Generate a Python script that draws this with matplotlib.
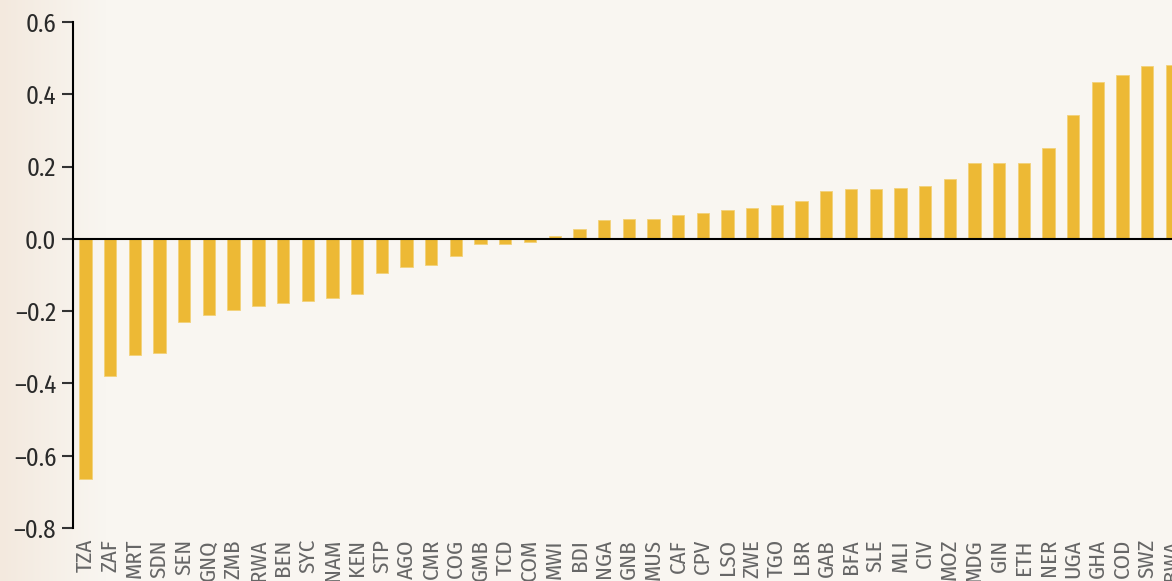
import numpy as np
import matplotlib.pyplot as plt
from matplotlib.colors import LinearSegmentedColormap

countries = ["TZA", "ZAF", "MRT", "SDN", "SEN", "GNQ", "ZMB", "RWA", "BEN", "SYC",
             "NAM", "KEN", "STP", "AGO", "CMR", "COG", "GMB", "TCD", "COM", "MWI",
             "BDI", "NGA", "GNB", "MUS", "CAF", "CPV", "LSO", "ZWE", "TGO", "LBR",
             "GAB", "BFA", "SLE", "MLI", "CIV", "MOZ", "MDG", "GIN", "ETH", "NER",
             "UGA", "GHA", "COD", "SWZ", "BWA"]
values = [-0.665, -0.379, -0.320, -0.317, -0.230, -0.211, -0.197, -0.187, -0.177, -0.172,
          -0.163, -0.152, -0.095, -0.077, -0.071, -0.048, -0.013, -0.013, -0.009, 0.009,
          0.028, 0.053, 0.056, 0.056, 0.066, 0.071, 0.080, 0.085, 0.094, 0.104,
          0.133, 0.138, 0.138, 0.142, 0.147, 0.166, 0.210, 0.210, 0.210, 0.252,
          0.343, 0.434, 0.453, 0.477, 0.482]
yticks = [-0.8, -0.6, -0.4, -0.2, 0.0, 0.2, 0.4, 0.6]

bar_color = "#EDB935"
bg_color = "#F9F6F1"
font = ["Fira Sans Condensed", "DejaVu Sans"]

fig = plt.figure(figsize=(11.72, 5.81), dpi=100)
fig.patch.set_facecolor(bg_color)

# warm strip fading in from the left edge
bg = fig.add_axes([0, 0, 0.09, 1], zorder=-1)
grad = np.linspace(0, 1, 256).reshape(1, -1)
cmap = LinearSegmentedColormap.from_list("strip", ["#F3E9DE", bg_color])
bg.imshow(grad, aspect="auto", cmap=cmap, extent=[0, 1, 0, 1])
bg.axis("off")

ax = fig.add_axes([0.0623, 0.0912, 0.9377, 0.8709])
ax.patch.set_alpha(0)

x = np.arange(len(countries))
ax.bar(x, values, width=0.5, color=bar_color, edgecolor="#F3D27A", linewidth=0.6)
ax.axhline(0, color="black", linewidth=1.5)

ax.set_xlim(-0.506, 43.9)
ax.set_ylim(-0.8, 0.6)
ax.set_yticks(yticks)
ax.set_yticklabels([f"{v:.1f}".replace("-", "\u2013") for v in yticks],
                   family=font, fontsize=18, color="#2A2A2A")
ax.set_xticks(x)
ax.set_xticklabels(countries, rotation=90, family=font, fontsize=16.5,
                   color="#666666", va="top", ha="center")
ax.tick_params(axis="x", length=0, pad=8)
ax.tick_params(axis="y", direction="out", length=8, width=1.5, color="#333333", pad=4)

for side in ["top", "right", "bottom"]:
    ax.spines[side].set_visible(False)
ax.spines["left"].set_linewidth(1.5)
ax.spines["left"].set_color("black")

fig.savefig("out.png", dpi=100, facecolor=fig.get_facecolor())
